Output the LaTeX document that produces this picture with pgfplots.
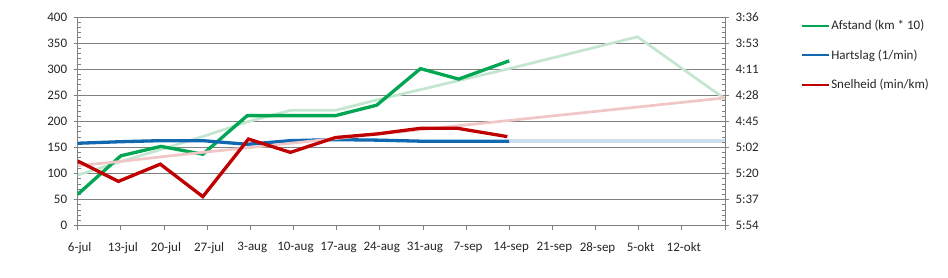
\documentclass[border=0pt]{standalone}
\usepackage{pgfplots}
\pgfplotsset{compat=1.18}
\usepackage{fontspec}
\setmainfont{Carlito}
\definecolor{cgreen}{RGB}{0,166,81}
\definecolor{cblue}{RGB}{16,104,176}
\definecolor{cred}{RGB}{192,0,0}
\definecolor{lgreen}{RGB}{196,230,208}
\definecolor{lred}{RGB}{240,198,198}
\definecolor{lblue}{RGB}{205,222,237}
\definecolor{axgray}{RGB}{128,128,128}
\pgfplotsset{
  common/.style={
    scale only axis, width=647.3pt, height=208.7pt,
    at={(77.7pt,52.3pt)}, anchor=south west,
    xmin=0, xmax=105,
    font=\fontsize{13}{15.6}\selectfont,
    /pgf/number format/assume math mode=true,
    tick align=outside, major tick length=4pt, minor tick length=3.5pt,
    tick style={axgray, line width=0.8pt},
    axis line style={axgray, line width=0.8pt},
    minor y tick num=4,
    ticklabel style={text=black!85},
  }
}
\begin{document}
\begin{tikzpicture}
\useasboundingbox (0,0) rectangle (948pt,278pt);
\begin{axis}[common,
  axis x line*=bottom, axis y line*=left,
  ymin=0, ymax=400, ytick={0,50,...,400},
  xtick={0,7,...,105},
  xticklabels={6-jul,13-jul,20-jul,27-jul,3-aug,10-aug,17-aug,24-aug,31-aug,7-sep,14-sep,21-sep,28-sep,5-okt,12-okt,{}},
  ymajorgrids, major grid style={axgray, line width=0.8pt},
  minor tick style={xshift=3.5pt},
  xticklabel style={yshift=-9pt, xshift=2pt},
  yticklabel style={xshift=-3pt},
]
% light (target) series
\addplot[lblue, line width=4pt, forget plot] coordinates {(70,162) (105,162)};
\addplot[lgreen, line width=2.7pt, forget plot] coordinates {
(0,97) (7,123) (13.5,146) (20.3,171) (27.5,199) (34.5,221) (41.8,221) (48.5,241) (70,301) (90.8,362) (105,243)};
% Afstand
\addplot[cgreen, line width=3.3pt] coordinates {
(0,60) (7,134) (13.5,152) (20.3,137) (27.5,211) (34.5,211) (41.8,211) (48.5,231) (55.6,301) (61.8,281) (70,316)};
% Hartslag
\addplot[cblue, line width=3.3pt] coordinates {
(0,158) (7,161) (13.5,163) (20.3,163) (27.5,156) (34.5,163) (41.8,165) (48.5,164) (55.6,162) (61.8,162) (70,162)};
\end{axis}
\begin{axis}[common,
  axis x line=none, axis y line*=right,
  y dir=reverse, ymin=216, ymax=354,
  ytick={216,233.25,250.5,267.75,285,302.25,319.5,336.75,354},
  yticklabels={3:36,3:53,4:11,4:28,4:45,5:02,5:20,5:37,5:54},
  minor tick style={xshift=-3.5pt},
  yticklabel style={xshift=3pt},
  legend cell align=left,
  legend style={at={(1.1175,0.99)}, anchor=north west, draw=none, fill=none,
    inner sep=0pt, row sep=16.5pt, font=\fontsize{13}{15.6}\selectfont,
    nodes={inner sep=1pt, text=black!85}},
  legend image code/.code={\draw[#1, line width=2pt] (0pt,0pt) -- (27pt,0pt);},
]
\addplot[lred, line width=2.7pt, forget plot] coordinates {
(0,314.3) (7,311.5) (13.5,308.5) (20.3,305.5) (27.5,302.5) (70,284.4) (105,269.5)};
\addlegendimage{cgreen, line width=3pt}
\addlegendentry{Afstand (km * 10)}
\addlegendimage{cblue, line width=3pt}
\addlegendentry{Hartslag (1/min)}
% Snelheid (seconds per km)
\addplot[cred, line width=3.3pt] coordinates {
(0,311.2) (6.6,324.7) (13.4,313.3) (20.3,334.8) (27.7,296.7) (34.5,305.5) (41.8,295.7) (48.6,293.3) (55.6,289.6) (61.6,289.6) (69.7,295.1)};
\addlegendentry{Snelheid (min/km)}
\end{axis}
\end{tikzpicture}
\end{document}
